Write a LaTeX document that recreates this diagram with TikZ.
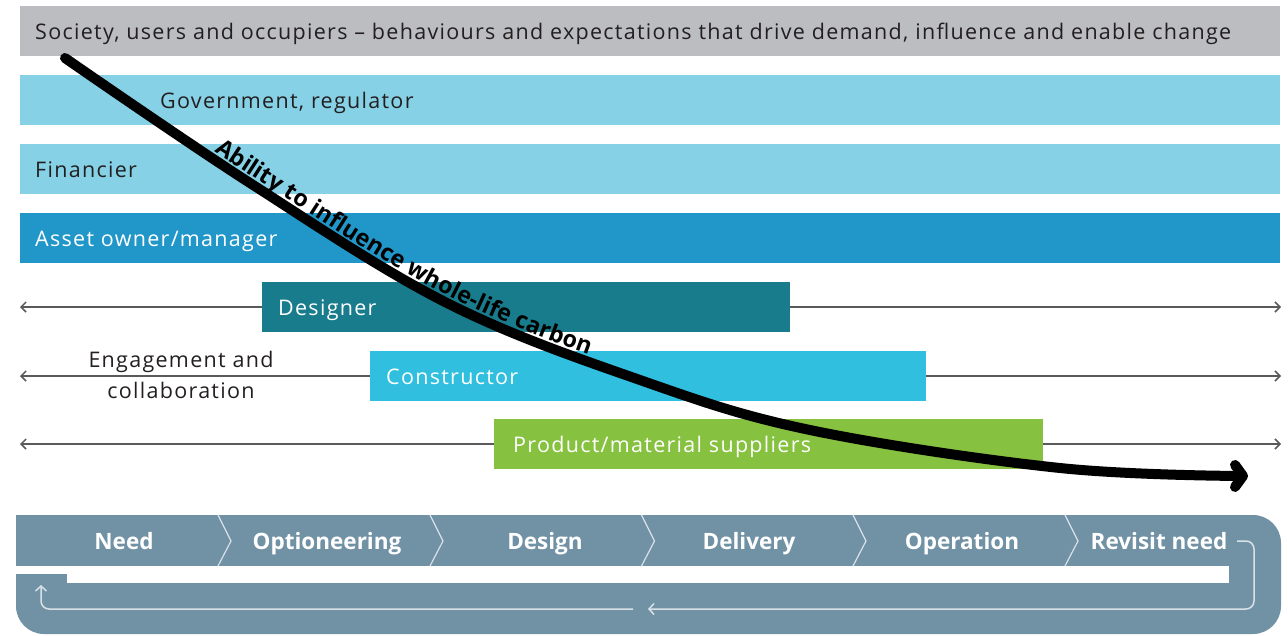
\documentclass[tikz,border=0pt]{standalone}
\usepackage{fontspec}
\setmainfont{Open Sans}
\newfontfamily\lblfont{Open Sans}[LetterSpace=6]
\usetikzlibrary{arrows.meta,decorations.text}
\definecolor{greybar}{HTML}{BCBDC0}
\definecolor{lightblue}{HTML}{86D1E6}
\definecolor{assetblue}{HTML}{2196C8}
\definecolor{designteal}{HTML}{187C8C}
\definecolor{constrblue}{HTML}{30BFDE}
\definecolor{suppgreen}{HTML}{86C140}
\definecolor{procblue}{HTML}{7192A5}
\definecolor{loopcol}{HTML}{D8E1E7}
\definecolor{darktext}{HTML}{231F20}
\definecolor{arrowgrey}{HTML}{5A5A5A}
\begin{document}
\begin{tikzpicture}[x=1pt,y=-1pt,
  bar/.style={anchor=north west, minimum height=50pt, inner sep=0pt, outer sep=0pt},
  lbl/.style={anchor=base west, inner sep=0pt, font=\lblfont\fontsize{21.5}{26}\selectfont},
  stagelbl/.style={anchor=base, inner sep=0pt, text=white, font=\fontsize{22.5}{26}\selectfont\bfseries},
  collab/.style={arrowgrey, line width=1.5pt, {Straight Barb[length=5pt,width=10pt]}-{Straight Barb[length=5pt,width=10pt]}},
  loopline/.style={loopcol, line width=1.5pt, rounded corners=8pt, -{Straight Barb[length=5pt,width=11pt]}},
  sep/.style={loopcol, line width=1.2pt},
  curve/.style={line width=10pt, line cap=round, -{Straight Barb[round,length=8pt,width=22pt]}}
]
\useasboundingbox (0,0) rectangle (1288,635);

% engagement arrows (behind bars)
\coordinate (l1) at (20,307); \coordinate (r1) at (1281,307);
\coordinate (l2) at (20,376); \coordinate (r2) at (1281,376);
\coordinate (l3) at (20,444); \coordinate (r3) at (1281,444);
\draw[collab] (l1) -- (r1);
\draw[collab] (l2) -- (r2);
\draw[collab] (l3) -- (r3);

% bars
\node[bar, fill=greybar, minimum width=1260pt] (society) at (20,6) {};
\node[lbl, text=darktext] (societyt) at (35,39.5) {Society, users and occupiers – behaviours and expectations that drive demand, influence and enable change};
\node[bar, fill=lightblue, minimum width=1260pt] (gov) at (20,75) {};
\node[lbl, text=darktext] (govt) at (160,108.5) {Government, regulator};
\node[bar, fill=lightblue, minimum width=1260pt] (fin) at (20,144) {};
\node[lbl, text=darktext] (fint) at (35,177.5) {Financier};
\node[bar, fill=assetblue, minimum width=1260pt] (asset) at (20,213) {};
\node[lbl, text=white] (assett) at (35,246.5) {Asset owner/manager};
\node[bar, fill=designteal, minimum width=528pt] (des) at (262,282) {};
\node[lbl, text=white] (dest) at (278,315.5) {Designer};
\node[bar, fill=constrblue, minimum width=556pt] (con) at (370,351) {};
\node[lbl, text=white] (cont) at (386,384.5) {Constructor};
\node[bar, fill=suppgreen, minimum width=549pt] (sup) at (494,419) {};
\node[lbl, text=white] (supt) at (513,452.5) {Product/material suppliers};

\node[inner sep=0pt, align=center, text=darktext, font=\lblfont\fontsize{21.5}{31}\selectfont] (engage) at (181,374.5) {Engagement and\\collaboration};

% process band
\fill[procblue, rounded corners=28pt] (16,515) rectangle (1281,634);
\fill[procblue] (16,515) rectangle (80,560);
\fill[white] (16,565.5) rectangle (67,574);
\fill[white] (67,565.5) rectangle (1229,583);
\foreach \sx in {218,430,641.5,853,1065}
  \draw[sep] (\sx,515) -- (\sx+13,541) -- (\sx,566);
\node[stagelbl] (need) at (124,549.5) {Need};
\node[stagelbl] (opt) at (327,549.5) {Optioneering};
\node[stagelbl] (design) at (545,549.5) {Design};
\node[stagelbl] (deliv) at (749,549.5) {Delivery};
\node[stagelbl] (oper) at (962,549.5) {Operation};
\node[stagelbl] (revis) at (1159,549.5) {Revisit need};

\coordinate (ls) at (1237,541);
\coordinate (lc) at (1254,609);
\coordinate (lm) at (648,609);
\coordinate (ln) at (633,609);
\coordinate (le) at (41,585);
\draw[loopline] (ls) -| (lc) -- (lm);
\draw[loopline] (ln) -| (le);

% influence curve
\draw[curve] plot[smooth, tension=0.6] coordinates {(65,58) (250,183) (447,303) (640,380) (810,430) (1060,468) (1248,476)};
\path[decorate, decoration={text along path, raise=7pt, text align={left indent=176pt},
  text format delimiters={|}{|},
  text={|\fontsize{23.3}{26}\selectfont\bfseries|Ability to influence whole-life carbon}}]
  plot[smooth, tension=0.6] coordinates {(65,58) (250,183) (447,303) (640,380) (810,430) (1060,468) (1248,476)};
\end{tikzpicture}
\end{document}
